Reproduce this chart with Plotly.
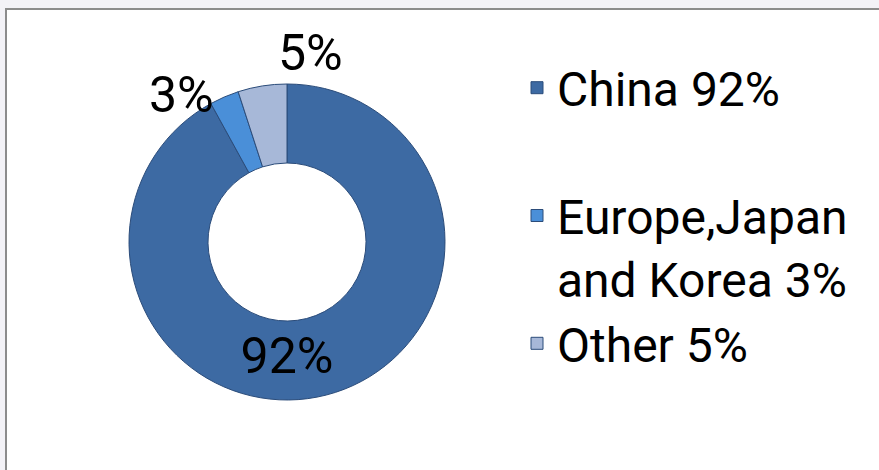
import math
import plotly.graph_objects as go

labels = ["China 92%<br>&nbsp;", "Europe,Japan<br>and Korea 3%", "Other 5%"]
values = [92, 3, 5]
slice_text = ["92%", "3%", "5%"]
colors = ["#3d6aa3", "#4a8fd8", "#a7b8d8"]

W, H = 879, 470
cx, cy, r = 287, 242, 158
FONT = "Roboto, Arial, sans-serif"

fig = go.Figure()
fig.add_trace(go.Pie(
    labels=labels,
    values=values,
    text=[slice_text[0], "", ""],
    textinfo="text",
    textposition="inside",
    insidetextorientation="horizontal",
    hole=0.5,
    sort=False,
    direction="clockwise",
    rotation=0,
    marker=dict(colors=colors, line=dict(color="#2b4c7a", width=1)),
    textfont=dict(family=FONT, size=50, color="black"),
    domain=dict(x=[(cx - r) / W, (cx + r) / W], y=[(H - cy - r) / H, (H - cy + r) / H]),
    showlegend=True,
))

# outside labels for the small slices, placed at each slice's mid-angle on the outer edge
label_style = {1: dict(xanchor="right", yanchor="middle", xshift=-8, yshift=2),
               2: dict(xanchor="left", yanchor="bottom", xshift=14, yshift=2)}
total = sum(values)
cum = 0
for i, v in enumerate(values):
    mid = (cum + v / 2) / total * 2 * math.pi
    cum += v
    if i in label_style:
        px = cx + r * math.sin(mid)
        py = cy - r * math.cos(mid)
        fig.add_annotation(x=px / W, y=1 - py / H, xref="paper", yref="paper",
                           text=slice_text[i], showarrow=False,
                           font=dict(family=FONT, size=50, color="black"),
                           **label_style[i])

fig.add_shape(type="rect", xref="paper", yref="paper",
              x0=6 / W, x1=1.02, y0=-0.02, y1=1 - 9 / H,
              fillcolor="white", line=dict(color="#8c8c8c", width=2), layer="below")

fig.update_layout(
    width=W, height=H,
    margin=dict(l=0, r=0, t=0, b=0),
    paper_bgcolor="#f3f2f7",
    legend=dict(
        x=517 / W, y=1 - 50 / H, xanchor="left", yanchor="top",
        font=dict(family=FONT, size=48, color="black"),
        valign="top", bgcolor="rgba(0,0,0,0)",
    ),
)

fig.write_html("out.html")
